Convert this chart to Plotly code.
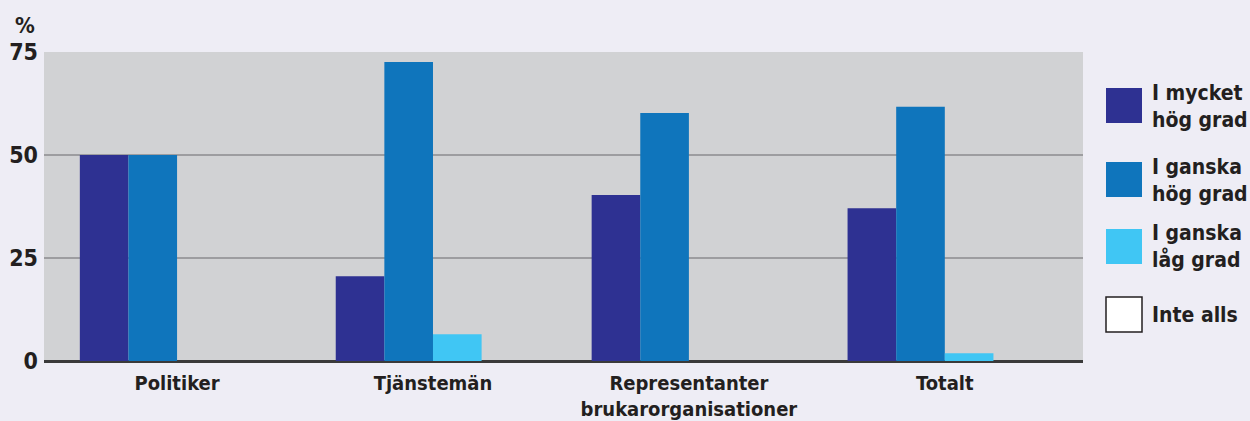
import plotly.graph_objects as go

categories = ["Politiker", "Tjänstemän", "Representanter<br>brukarorganisationer", "Totalt"]
series_names = ["I mycket<br>hög grad", "I ganska<br>hög grad", "I ganska<br>låg grad", "Inte alls"]
series_colors = ["#2E3192", "#0F75BC", "#40C6F4", "#FFFFFF"]
v_mycket_hog = [50.0, 20.6, 40.3, 37.1]
v_ganska_hog = [50.0, 72.6, 60.2, 61.7]
v_ganska_lag = [0.0, 6.5, 0.0, 1.9]
v_inte_alls = [0.0, 0.0, 0.0, 0.0]
y_ticks = [0, 25, 50, 75]

values = [v_mycket_hog, v_ganska_hog, v_ganska_lag, v_inte_alls]

FONT = "DejaVu Sans Condensed, DejaVu Sans, sans-serif"
TXT = "#231F20"

fig = go.Figure()
for name, col, vals in zip(series_names, series_colors, values):
    fig.add_trace(go.Bar(x=list(range(len(categories))), y=vals, name=name,
                         marker=dict(color=col, line=dict(width=0)), showlegend=False))

# Plot area geometry (px) for legend placement
L, R, T, B = 44, 1083, 52, 361
W, H = R - L, B - T
def px(x):
    return (x - L) / W
def py(y):
    return (B - y) / H

shapes = []
annotations = []
sq_tops = [88, 162, 229, 297]
for i, (name, col) in enumerate(zip(series_names, series_colors)):
    top = sq_tops[i]
    shapes.append(dict(type="rect", xref="paper", yref="paper",
                       x0=px(1106), x1=px(1142), y0=py(top + 35), y1=py(top),
                       fillcolor=col,
                       line=dict(color="#231F20" if col == "#FFFFFF" else col,
                                 width=1.5 if col == "#FFFFFF" else 0)))
    annotations.append(dict(xref="paper", yref="paper", x=px(1150), y=py(top + 18),
                            text=name, showarrow=False, xanchor="left", yanchor="middle",
                            align="left", font=dict(family=FONT, size=21, color=TXT, weight="bold")))

annotations.append(dict(xref="paper", yref="paper", x=px(25), y=py(26), text="%",
                        showarrow=False, xanchor="center", yanchor="middle",
                        font=dict(family=FONT, size=22, color=TXT, weight="bold")))

fig.update_layout(
    width=1250, height=421,
    margin=dict(l=L, r=1250 - R, t=T, b=421 - B, autoexpand=False),
    paper_bgcolor="#EEEDF5", plot_bgcolor="#D1D2D4",
    barmode="group", bargap=0.24, bargroupgap=0,
    shapes=shapes, annotations=annotations,
    font=dict(family=FONT, size=21, color=TXT, weight="bold"),
)
fig.update_xaxes(tickmode="array", tickvals=list(range(len(categories))), ticktext=categories,
                 range=[-0.52, 3.54], showgrid=False, zeroline=False, showline=False,
                 automargin=False, ticklabelstandoff=8,
                 tickfont=dict(family=FONT, size=20, color=TXT, weight="bold"))
fig.update_yaxes(range=[0, 75], tickvals=y_ticks, showgrid=True, gridcolor="#9D9DA0", gridwidth=2,
                 zeroline=True, zerolinecolor="#3A3A3A", zerolinewidth=2.5, showline=False,
                 automargin=False,
                 tickfont=dict(family=FONT, size=23, color=TXT, weight="bold"), ticklabelstandoff=5)

fig.write_html("out.html")
